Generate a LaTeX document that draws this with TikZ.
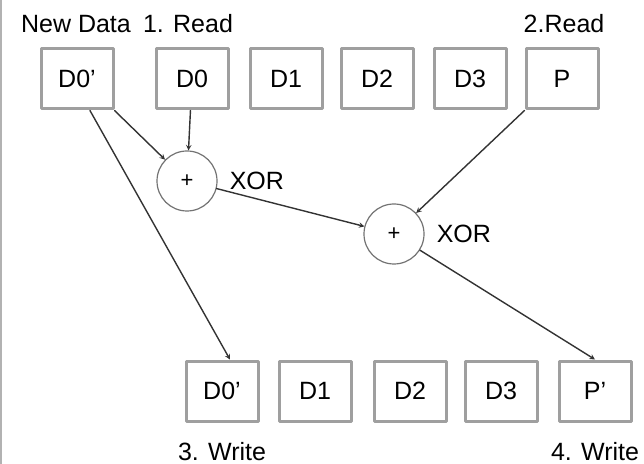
\documentclass[tikz,border=0pt]{standalone}
\usepackage{fontspec}
\setmainfont{Liberation Sans}
\usetikzlibrary{positioning}
\begin{document}
\begin{tikzpicture}[>=stealth,line join=round,line cap=round,x=1bp,y=-1bp,font=\fontsize{25bp}{30bp}\selectfont]
	\tikzset{
		blk/.style={draw=gray!75,line width=3bp,minimum width=72bp,minimum height=60bp,inner sep=0pt},
		xr/.style={circle,draw=gray!90!black,line width=1.2bp,minimum size=60bp,inner sep=0pt,font=\fontsize{22bp}{24bp}\selectfont},
		ln/.style={->,draw=black!80,line width=1.4bp},
		lbl/.style={inner sep=0pt,anchor=base},
	}
	\useasboundingbox (0,0) rectangle (644,464);
	\draw[gray!60,line width=2bp] (1,0)--(1,464);
	% blocks read
	\foreach \name/\x/\txt in {D0n/77/D0',D0/192/D0,D1/286/D1,D2/377/D2,D3/470/D3,P/562/P}{
		\node[blk] (\name) at (\x,79) {\txt};
	}
	% blocks written
	\foreach \name/\x/\txt in {wD0n/222/D0',wD1/315/D1,wD2/410/D2,wD3/501/D3,wP/595/P'}{
		\node[blk] (\name) at (\x,391) {\txt};
	}
	\node[xr] (X1) at (187,181) {+};
	\node[xr] (X2) at (394,234) {+};
	\node[inner sep=0pt,right=12bp of X1] (t1) {XOR};
	\node[inner sep=0pt,right=12bp of X2] (t2) {XOR};
	% step labels
	\node[lbl] (nd) at (76,33) {New Data};
	\node[lbl] (r1) at (188,33) {1. Read};
	\node[lbl] (r2) at (564,33) {2.Read};
	\node[lbl] (w3) at (222,460) {3. Write};
	\node[lbl] (w4) at (595,460) {4. Write};
	\draw[ln] (D0n.south east) -- (X1);
	\draw[ln] (D0) -- (X1);
	\draw[ln] ([xshift=13]D0n.south) -- ([xshift=8]wD0n.north);
	\draw[ln] (X1) -- (X2);
	\draw[ln] (P.south west) -- (X2);
	\draw[ln] (X2) -- (wP.north);
\end{tikzpicture}
\end{document}
